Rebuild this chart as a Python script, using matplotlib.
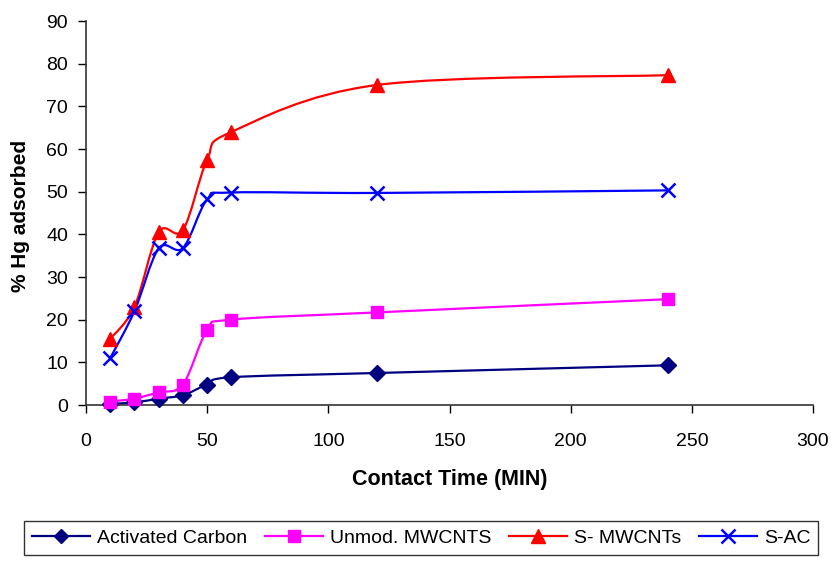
import numpy as np
import matplotlib
matplotlib.use("Agg")
import matplotlib.pyplot as plt
from matplotlib.path import Path
from matplotlib.patches import PathPatch
from matplotlib.lines import Line2D

plt.rcParams['font.family'] = ['Liberation Sans', 'DejaVu Sans']

time_min = [10, 20, 30, 40, 50, 60, 120, 240]
activated_carbon = [0.3, 0.6, 1.5, 2.3, 4.8, 6.5, 7.5, 9.3]
unmod_mwcnts = [0.8, 1.5, 3.0, 4.8, 17.5, 20.0, 21.7, 24.8]
s_mwcnts = [15.5, 23.0, 40.5, 41.0, 57.5, 64.0, 75.0, 77.3]
s_ac = [11.0, 22.0, 36.7, 36.8, 48.2, 49.8, 49.7, 50.3]

series = [
    ("Activated Carbon", activated_carbon, "#000080", "D", 8),
    ("Unmod. MWCNTS", unmod_mwcnts, "#FF00FF", "s", 8.5),
    ("S- MWCNTs", s_mwcnts, "#FF0000", "^", 10.5),
    ("S-AC", s_ac, "#0000FF", "x", 10.5),
]

fig = plt.figure(figsize=(8.34, 5.63), dpi=100)
ax = fig.add_axes([86/834, 1-405/563, (813-86)/834, (405-21)/563])
ax.set_xlim(0, 300)
ax.set_ylim(0, 90)

# screen-space smoothing (Excel-like Bezier)
sx = 727/300.0
sy = 384/90.0

def smooth_path(xs, ys):
    P = np.column_stack([np.array(xs)*sx, np.array(ys)*sy])
    n = len(P)
    verts = [P[0]]
    codes = [Path.MOVETO]
    for i in range(n-1):
        p0 = P[i-1] if i > 0 else P[i]
        p1 = P[i]
        p2 = P[i+1]
        p3 = P[i+2] if i+2 < n else P[i+1]
        c1 = p1 + (p2 - p0)/6.0
        c2 = p2 - (p3 - p1)/6.0
        verts += [c1, c2, p2]
        codes += [Path.CURVE4]*3
    V = np.array(verts)
    V[:, 0] /= sx
    V[:, 1] /= sy
    return Path(V, codes)

handles = []
for name, vals, color, marker, ms in series:
    path = smooth_path(time_min, vals)
    ax.add_patch(PathPatch(path, facecolor='none', edgecolor=color, lw=1.6, zorder=2))
    mew = 1.8 if marker == 'x' else 1
    ax.plot(time_min, vals, linestyle='none', marker=marker, ms=ms, color=color,
            mec=color, mew=mew, zorder=3, clip_on=False)
    handles.append(Line2D([], [], color=color, lw=1.6, marker=marker, ms=ms-0.5,
                          mew=mew, label=name))

ax.set_xticks(np.arange(0, 301, 50))
ax.set_yticks(np.arange(0, 91, 10))
ax.tick_params(axis='both', direction='out', length=6, width=1, labelsize=14, colors='black')
ax.tick_params(axis='x', pad=14)
ax.tick_params(axis='y', pad=7)
for s in ['top', 'right']:
    ax.spines[s].set_visible(False)
for s in ['left', 'bottom']:
    ax.spines[s].set_color('#333333')
    ax.spines[s].set_linewidth(1.2)

ax.set_xlabel("Contact Time (MIN)", fontsize=15.5, fontweight='bold')
ax.set_ylabel("% Hg adsorbed", fontsize=15, fontweight='bold')
ax.xaxis.label.set_va('center')
ax.yaxis.label.set_va('center')
ax.xaxis.set_label_coords(0.5, (405-479)/384)
ax.yaxis.set_label_coords((21-86)/727, (405-216)/384)

leg = fig.legend(handles=handles, loc='center', bbox_to_anchor=(421/834, 1-538/563),
                 ncol=4, fontsize=14, frameon=True, fancybox=False,
                 handlelength=3.0, handletextpad=0.35, columnspacing=0.9,
                 borderpad=0.4, edgecolor='black')
leg.get_frame().set_linewidth(1.0)

fig.savefig("out.png", dpi=100)
